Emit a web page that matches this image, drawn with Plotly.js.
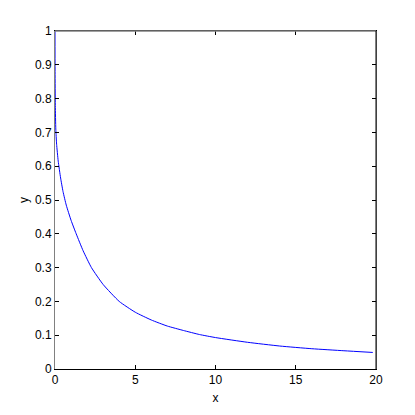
<!DOCTYPE html>
<html>
<head>
<meta charset="utf-8">
<script src="https://cdn.plot.ly/plotly-3.0.1.min.js"></script>
<style>
  html, body { margin: 0; padding: 0; background: #fff; }
  #chart { width: 415px; height: 415px; }
</style>
</head>
<body>
<div id="chart"></div>
<script>
// values
const xValues = [0, 0.005, 0.02, 0.05, 0.1, 0.2, 0.35, 0.5, 0.7, 1.0, 1.32, 1.75, 2.27, 3.0, 4.0, 5.0, 6.0, 7.0, 8.0, 9.0, 10, 12, 14, 16, 18, 19.8];
const yValues = [1, 0.88, 0.78, 0.71, 0.665, 0.615, 0.565, 0.525, 0.485, 0.44, 0.4, 0.35, 0.3, 0.25, 0.2, 0.168, 0.145, 0.127, 0.114, 0.102, 0.093, 0.079, 0.068, 0.06, 0.054, 0.049];
const xTicks = [0, 5, 10, 15, 20];
const yTicks = [0, 0.1, 0.2, 0.3, 0.4, 0.5, 0.6, 0.7, 0.8, 0.9, 1];

const tickFont = { family: "Liberation Sans Narrow, Liberation Sans, Arial, sans-serif", size: 12, color: "#000" };

const trace = {
  type: "scatter",
  mode: "lines",
  x: xValues,
  y: yValues,
  line: { color: "#0000ff", width: 1, shape: "spline", smoothing: 0.5 },
  hoverinfo: "skip",
};

const layout = {
  width: 415,
  height: 415,
  margin: { l: 55, r: 39, t: 31, b: 46 },
  paper_bgcolor: "#fff",
  plot_bgcolor: "#fff",
  showlegend: false,
  xaxis: {
    range: [0, 20],
    tickvals: xTicks,
    ticks: "inside",
    ticklen: 4,
    tickcolor: "#000",
    showline: true,
    linecolor: "#000",
    linewidth: 1,
    mirror: "ticks",
    showgrid: false,
    zeroline: false,
    tickfont: tickFont,
    title: { text: "x", font: tickFont, standoff: 7 },
  },
  yaxis: {
    range: [0, 1],
    tickvals: yTicks,
    ticks: "inside",
    ticklen: 4,
    tickcolor: "#000",
    showline: true,
    linecolor: "#808080",
    linewidth: 1,
    mirror: "ticks",
    showgrid: false,
    zeroline: false,
    tickfont: tickFont,
    title: { text: "y", font: tickFont, standoff: 3 },
  },
  shapes: [
    // box frame: top edge gray, right edge black, as in the reference
    { type: "line", xref: "paper", yref: "paper", x0: 0, x1: 1, y0: 1, y1: 1, line: { color: "#808080", width: 1.5 } },
    { type: "line", xref: "paper", yref: "paper", x0: 1, x1: 1, y0: 0, y1: 1, line: { color: "#000", width: 1 } },
  ],
};

Plotly.newPlot("chart", [trace], layout, { displayModeBar: false, staticPlot: true });
</script>
</body>
</html>
